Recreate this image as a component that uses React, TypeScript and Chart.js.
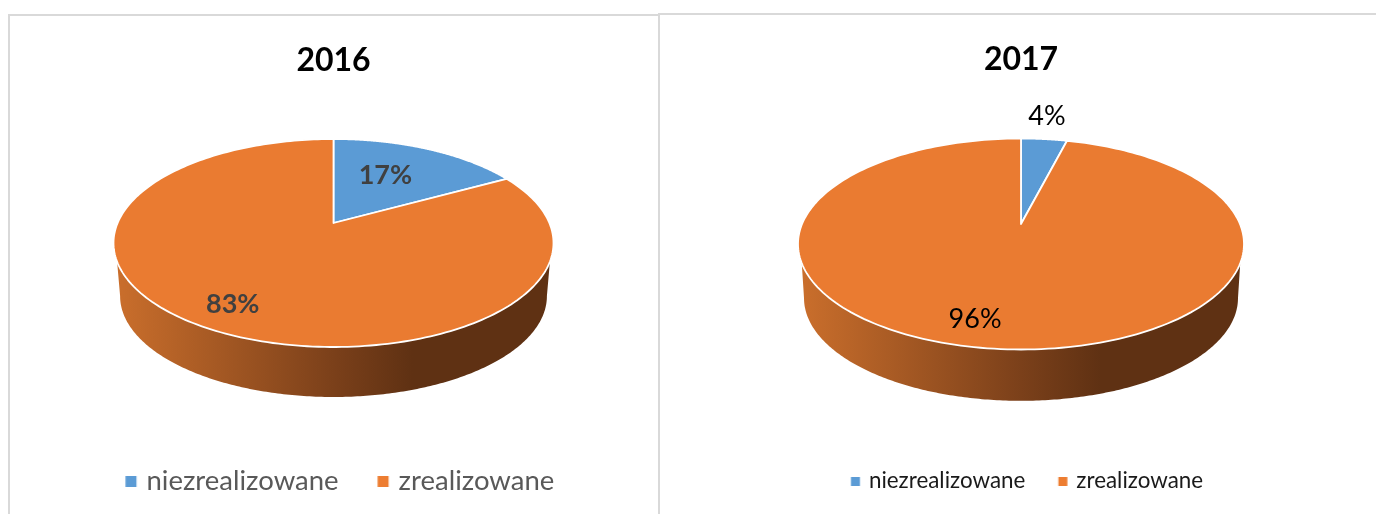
import React, { useEffect, useRef } from "react";
import { Chart, registerables } from "chart.js";

Chart.register(...registerables);

const categories = ["niezrealizowane", "zrealizowane"];
const values2016 = [17, 83];
const values2017 = [4, 96];
const sliceColors = ["#5b9bd5", "#ea7b31"];
const legendColors = ["#5b9bd5", "#ed7d31"];
const FONT = "Lato";

type Look = {
  title: string;
  values: number[];
  canvasLeft: number;
  canvasWidth: number;
  titleTop: number;
  cx: number;
  apexY: number;
  topY: number;
  bottomY: number;
  halfWidth: number;
  wallDrop: number;
  wallScale: number;
  labelPlaces: { along: number; r: number }[];
  labelFont: { size: number; weight: string };
  labelColor: string;
  legendFont: number;
  legendColor: string;
  legendPadding: number;
  legendBox: number;
  legendTextGap: number;
  legendShiftX: number;
  legendCenterY: number;
};

const looks: Look[] = [
  {
    title: "2016",
    values: values2016,
    canvasLeft: 9,
    canvasWidth: 649,
    titleTop: 41,
    cx: 324.5,
    apexY: 223,
    topY: 139,
    bottomY: 347,
    halfWidth: 220,
    wallDrop: 53.7,
    wallScale: 0.97,
    labelPlaces: [
      { along: 0.42, r: 0.613 },
      { along: 0.5, r: 0.796 },
    ],
    labelFont: { size: 27, weight: "bold" },
    labelColor: "#404040",
    legendFont: 27.5,
    legendColor: "#595959",
    legendPadding: 45.25,
    legendBox: 11,
    legendTextGap: 10,
    legendShiftX: 9.5,
    legendCenterY: 481,
  },
  {
    title: "2017",
    values: values2017,
    canvasLeft: 666,
    canvasWidth: 710,
    titleTop: 40,
    cx: 355,
    apexY: 224,
    topY: 138.5,
    bottomY: 349.5,
    halfWidth: 223,
    wallDrop: 54.7,
    wallScale: 0.973,
    labelPlaces: [
      { along: 0.434, r: 1.369 },
      { along: 0.5165, r: 0.8 },
    ],
    labelFont: { size: 27, weight: "normal" },
    labelColor: "#000000",
    legendFont: 22.4,
    legendColor: "#1a1a1a",
    legendPadding: 38.8,
    legendBox: 9,
    legendTextGap: 9,
    legendShiftX: 8.9,
    legendCenterY: 481,
  },
];

const LEGEND_MARK_SLOT = 1;

function legendMark(look: Look, color: string) {
  const half = 30;
  const c = document.createElement("canvas");
  c.width = half * 2;
  c.height = look.legendBox;
  const g = c.getContext("2d")!;
  const right = half + LEGEND_MARK_SLOT / 2 + look.legendFont / 2 - look.legendTextGap;
  g.fillStyle = color;
  g.fillRect(right - look.legendBox, 0, look.legendBox, look.legendBox);
  return c;
}

function projection(look: Look) {
  const up = look.apexY - look.topY;
  const down = look.bottomY - look.apexY;
  const k = (down - up) / (down + up);
  const A = up * (1 + k);
  const B = look.halfWidth * Math.sqrt(1 - k * k);
  const at = (angle: number, r = 1, scale = 1, drop = 0) => {
    const u = r * Math.sin(angle);
    const v = r * Math.cos(angle);
    const d = 1 - k * u;
    return {
      x: look.cx + (scale * B * v) / d,
      y: look.apexY + drop + (scale * A * u) / d,
    };
  };
  return { k, at };
}

const tiltedPie = {
  id: "tiltedPie",
  afterLayout(chart: any, _a: any, opts: { look: Look }) {
    const look = opts.look;
    const legend = chart.legend;
    const pad = legend.options.labels.padding;
    const h = legend.height;
    legend.left += look.legendShiftX;
    legend.right += look.legendShiftX;
    legend.top = look.legendCenterY - pad - look.legendFont / 2;
    legend.bottom = legend.top + h;
  },
  beforeDatasetDraw(chart: any, args: any, opts: { look: Look }) {
    const look = opts.look;
    const ctx = chart.ctx as CanvasRenderingContext2D;
    const { k, at } = projection(look);
    const meta = chart.getDatasetMeta(args.index);
    const STEPS = 240;

    // side wall
    const rimStart = Math.asin(0.36);
    const baseStart = Math.asin(k);
    ctx.save();
    ctx.beginPath();
    for (let i = 0; i <= STEPS; i++) {
      const a = Math.PI - rimStart + ((2 * rimStart - Math.PI) * i) / STEPS;
      const p = at(a);
      if (i === 0) ctx.moveTo(p.x, p.y);
      else ctx.lineTo(p.x, p.y);
    }
    for (let i = 0; i <= STEPS; i++) {
      const a = baseStart + ((Math.PI - 2 * baseStart) * i) / STEPS;
      const p = at(a, 1, look.wallScale, look.wallDrop);
      ctx.lineTo(p.x, p.y);
    }
    ctx.closePath();
    const g = ctx.createLinearGradient(look.cx - look.halfWidth, 0, look.cx + look.halfWidth, 0);
    g.addColorStop(0, "#cb6f2c");
    g.addColorStop(0.5, "#7b401a");
    g.addColorStop(0.68, "#5f3113");
    g.addColorStop(1, "#5f3113");
    ctx.fillStyle = g;
    ctx.fill();

    // top face: one path per slice, angles taken from the library's arcs
    meta.data.forEach((arc: any, i: number) => {
      const { startAngle, endAngle } = arc.getProps(["startAngle", "endAngle"], true);
      ctx.beginPath();
      ctx.moveTo(look.cx, look.apexY);
      for (let s = 0; s <= STEPS; s++) {
        const p = at(startAngle + ((endAngle - startAngle) * s) / STEPS);
        ctx.lineTo(p.x, p.y);
      }
      ctx.closePath();
      ctx.fillStyle = sliceColors[i];
      ctx.fill();
      ctx.strokeStyle = "#ffffff";
      ctx.lineWidth = 1.8;
      ctx.lineJoin = "round";
      ctx.stroke();
    });

    // labels
    ctx.textAlign = "center";
    ctx.textBaseline = "middle";
    ctx.fillStyle = look.labelColor;
    ctx.font = `${look.labelFont.weight} ${look.labelFont.size}px ${FONT}`;
    meta.data.forEach((arc: any, i: number) => {
      const { startAngle, endAngle } = arc.getProps(["startAngle", "endAngle"], true);
      const place = look.labelPlaces[i];
      const p = at(startAngle + (endAngle - startAngle) * place.along, place.r);
      ctx.fillText(`${look.values[i]}%`, p.x, p.y + 2);
    });
    ctx.restore();
    return false;
  },
};

function PieCard({ look }: { look: Look }) {
  const ref = useRef<HTMLCanvasElement>(null);
  useEffect(() => {
    const marks = legendColors.map((c) => legendMark(look, c));
    const chart = new Chart(ref.current!, {
      type: "pie",
      data: {
        labels: categories,
        datasets: [{ data: look.values, backgroundColor: sliceColors, borderWidth: 0 }],
      },
      plugins: [tiltedPie],
      options: {
        responsive: false,
        animation: false,
        events: [],
        plugins: {
          tiltedPie: { look },
          title: {
            display: true,
            text: look.title,
            color: "#000000",
            font: { family: FONT, size: 32, weight: "bold" },
            padding: { top: look.titleTop, bottom: 0 },
          },
          legend: {
            position: "bottom",
            labels: {
              color: look.legendColor,
              font: { family: FONT, size: look.legendFont },
              usePointStyle: true,
              pointStyleWidth: LEGEND_MARK_SLOT,
              boxHeight: look.legendBox,
              padding: look.legendPadding,
              generateLabels(chart: any) {
                return Chart.overrides.pie.plugins.legend.labels
                  .generateLabels(chart)
                  .map((item: any, i: number) => ({ ...item, pointStyle: marks[i] }));
              },
            },
          },
          tooltip: { enabled: false },
        },
      } as any,
    });
    return () => chart.destroy();
  }, [look]);
  return (
    <canvas
      ref={ref}
      width={look.canvasWidth}
      height={514}
      style={{ position: "absolute", left: look.canvasLeft, top: 0, display: "block" }}
    />
  );
}

const rule = "#d9d9d9";

export default function App() {
  return (
    <div style={{ position: "fixed", inset: 0, overflow: "hidden", background: "#ffffff" }}>
      <div style={{ position: "absolute", left: 8, top: 14, width: 650, height: 2, background: rule }} />
      <div style={{ position: "absolute", left: 8, top: 14, width: 2, height: 500, background: rule }} />
      <div style={{ position: "absolute", left: 658, top: 13, width: 718, height: 2, background: rule }} />
      <div style={{ position: "absolute", left: 658, top: 13, width: 2, height: 501, background: rule }} />
      {looks.map((l) => (
        <PieCard key={l.title} look={l} />
      ))}
    </div>
  );
}
